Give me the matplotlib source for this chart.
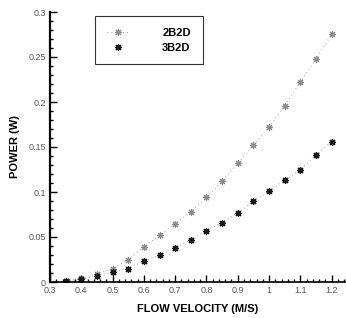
import matplotlib
matplotlib.use("Agg")
import matplotlib.pyplot as plt
from matplotlib.ticker import MultipleLocator, FixedLocator

plt.rcParams['font.family'] = ['Liberation Sans', 'DejaVu Sans']

velocity = [0.35, 0.40, 0.45, 0.50, 0.55, 0.60, 0.65, 0.70, 0.75, 0.80,
            0.85, 0.90, 0.95, 1.00, 1.05, 1.10, 1.15, 1.20]
power_2b2d = [0.001, 0.004, 0.009, 0.015, 0.025, 0.039, 0.052, 0.065, 0.078, 0.094,
              0.112, 0.132, 0.152, 0.172, 0.196, 0.222, 0.248, 0.275]
power_3b2d = [0.001, 0.003, 0.007, 0.011, 0.015, 0.023, 0.030, 0.038, 0.047, 0.057,
              0.066, 0.077, 0.090, 0.101, 0.113, 0.125, 0.141, 0.156]
series_names = ["2B2D", "3B2D"]
x_ticks = [0.3, 0.4, 0.5, 0.6, 0.7, 0.8, 0.9, 1.0, 1.1, 1.2]
x_tick_labels = ["0.3", "0.4", "0.5", "0.6", "0.7", "0.8", "0.9", "1", "1.1", "1.2"]
y_ticks = [0, 0.05, 0.1, 0.15, 0.2, 0.25, 0.3]
y_tick_labels = ["0", "0.05", "0.1", "0.15", "0.2", "0.25", "0.3"]

fig = plt.figure(figsize=(3.46, 3.18), dpi=100)
ax = fig.add_axes([50/346, 36/318, 296/346, 270/318])

ax.plot(velocity, power_2b2d, linestyle=(0, (1, 3)), color='#a0a0a0', lw=0.7,
        marker=(8, 2, 0), markersize=5, markeredgewidth=0.8,
        markeredgecolor='#8a8a8a', label=series_names[0])
ax.plot(velocity, power_3b2d, linestyle=(0, (1, 3)), color='#a0a0a0', lw=0.7,
        marker=(8, 2, 0), markersize=5, markeredgewidth=0.9,
        markeredgecolor='#1a1a1a', label=series_names[1])

ax.set_xlim(0.3, 1.246)
ax.set_ylim(0, 0.3)
ax.xaxis.set_major_locator(FixedLocator(x_ticks))
ax.set_xticklabels(x_tick_labels)
ax.yaxis.set_major_locator(FixedLocator(y_ticks))
ax.set_yticklabels(y_tick_labels)
ax.xaxis.set_minor_locator(MultipleLocator(0.02))
ax.yaxis.set_minor_locator(MultipleLocator(0.01))
ax.tick_params(which='both', direction='in', colors='black', labelcolor='#555555',
               labelsize=6.5, width=1.0)
ax.tick_params(which='major', length=5)
ax.tick_params(which='minor', length=2.5)
ax.tick_params(axis='x', pad=3)
ax.tick_params(axis='y', pad=3)

for side in ['top', 'right']:
    ax.spines[side].set_visible(False)
ax.spines['left'].set_linewidth(1.6)
ax.spines['bottom'].set_linewidth(1.2)

ax.set_xlabel("FLOW VELOCITY (M/S)", fontsize=8, fontweight='bold', labelpad=6)
ax.set_ylabel("POWER (W)", fontsize=8, fontweight='bold', labelpad=6)

leg = ax.legend(loc='upper left', bbox_to_anchor=(45/296, 1 - 4/270), frameon=True,
                fancybox=False, edgecolor='black', fontsize=8, numpoints=1,
                handlelength=2.0, borderpad=1.05, labelspacing=0.45,
                handletextpad=3.0, borderaxespad=0)
leg.get_frame().set_linewidth(0.8)
for t in leg.get_texts():
    t.set_fontweight('bold')
leg.legend_handles[1].set_linestyle('none')

fig.savefig("out.png", dpi=100)
